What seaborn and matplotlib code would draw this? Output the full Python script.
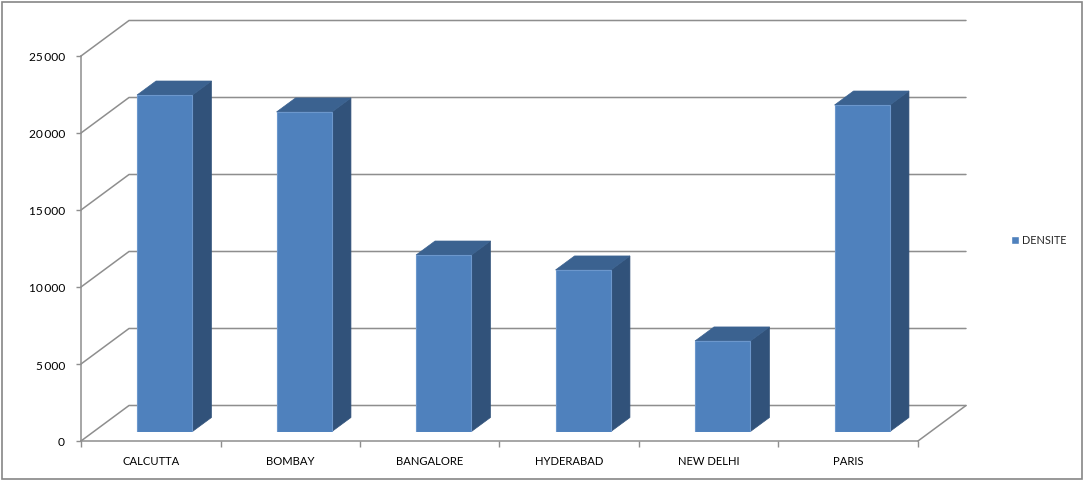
import numpy as np
import pandas as pd
import matplotlib.pyplot as plt
from matplotlib.patches import Polygon, Rectangle, Patch
from matplotlib.transforms import ScaledTranslation
import seaborn as sns

cities = ['CALCUTTA', 'BOMBAY', 'BANGALORE', 'HYDERABAD', 'NEW DELHI', 'PARIS']
density = [21850, 20750, 11460, 10490, 5880, 21200]
y_ticks = [0, 5000, 10000, 15000, 20000, 25000]
series_name = 'DENSITE'

W, H = 1083, 480
grid_col = '#8E8E8E'
front_col = '#4F81BD'
side_col = '#31527A'
top_col = '#3B6290'

sns.set_theme(style='white')
plt.rcParams['font.family'] = ['Lato', 'DejaVu Sans']

df = pd.DataFrame({'city': cities, 'density': density})
fig = plt.figure(figsize=(W / 100, H / 100), dpi=100)

# frame round the whole chart
fig.patches.append(Rectangle((1.5 / W, 1.5 / H), (W - 3) / W, (H - 3) / H, transform=fig.transFigure,
                             fill=False, edgecolor='#868686', linewidth=1.2))

# Plot area: the front plane of the 3D box
ax = fig.add_axes([81 / W, (H - 441) / H, 837 / W, 385 / H])
ax.set_xlim(-0.5, 5.5)
ax.set_ylim(0, 25000)
px_x = 6 / 837     # one pixel in x data units
px_y = 25000 / 385  # one pixel in y data units

wall_dx = 48 * px_x
wall_dy = 35.5 * px_y
for v in y_ticks:
    ax.plot([-0.5, -0.5 + wall_dx, 5.5 + wall_dx], [v, v + wall_dy, v + wall_dy],
            color=grid_col, lw=1.1, clip_on=False, zorder=1)
ax.plot([5.5, 5.5 + wall_dx], [0, wall_dy], color=grid_col, lw=1.1, clip_on=False, zorder=1)

sns.despine(ax=ax, top=True, right=True)
for side in ['left', 'bottom']:
    ax.spines[side].set_color(grid_col)
    ax.spines[side].set_linewidth(1.1)

ax.set_yticks(y_ticks)
ax.set_yticklabels([f'{v:,}'.replace(',', '\u2009') for v in y_ticks])
ax.set_xticks(np.arange(-0.5, 6, 1))
ax.set_xticklabels([])
ax.set_xticks(np.arange(6), labels=cities, minor=True)
ax.tick_params(axis='y', which='major', left=True, length=3.5, width=1, color=grid_col,
               labelsize=8.6, labelcolor='black', pad=8)
ax.tick_params(axis='x', which='major', bottom=True, length=4, width=1, color=grid_col)
ax.tick_params(axis='x', which='minor', bottom=False, length=0, labelsize=8.1, labelcolor='black', pad=10.5)
ax.patch.set_visible(False)

# nudge the value labels down a pixel
nudge = ScaledTranslation(0, -1 / 100, fig.dpi_scale_trans)
for lab in ax.get_yticklabels():
    lab.set_transform(lab.get_transform() + nudge)

# Bars sit a little further back than the front plane
bar_ax = fig.add_axes([(81 + 14) / W, (H - 431.5) / H, 837 / W, 385 / H])
sns.barplot(data=df, x='city', y='density', color=front_col, saturation=1, width=0.397, ax=bar_ax)
bar_ax.set_xlim(-0.5, 5.5)
bar_ax.set_ylim(0, 25000)
bar_ax.axis('off')

depth_x = 19 * px_x
depth_y = 14 * px_y
for bar in bar_ax.patches:
    bar.set_edgecolor('#6C97CC')
    bar.set_linewidth(0.8)
    bar.set_zorder(3)
    left = bar.get_x()
    right = left + bar.get_width()
    top = bar.get_height()
    bar_ax.add_patch(Polygon([(right, 0), (right + depth_x, depth_y), (right + depth_x, top + depth_y), (right, top)],
                             closed=True, facecolor=side_col, edgecolor=side_col, lw=0.5, clip_on=False, zorder=2))
    bar_ax.add_patch(Polygon([(left, top), (left + depth_x, top + depth_y), (right + depth_x, top + depth_y), (right, top)],
                             closed=True, facecolor=top_col, edgecolor=top_col, lw=0.5, clip_on=False, zorder=2))

leg = fig.legend(handles=[Patch(facecolor=front_col, label=series_name)], loc='center left',
                 bbox_to_anchor=(1010.5 / W, (H - 240) / H), frameon=False, fontsize=7.8,
                 handlelength=0.8, handleheight=0.8, handletextpad=0.25, borderpad=0, borderaxespad=0)

fig.savefig('out.png', dpi=100)
